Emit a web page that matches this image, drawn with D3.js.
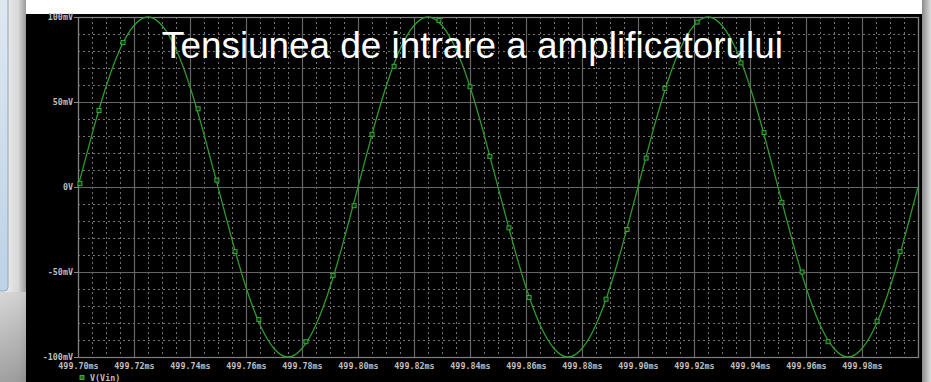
<!DOCTYPE html>
<html>
<head>
<meta charset="utf-8">
<script src="https://cdn.jsdelivr.net/npm/d3@7"></script>
<style>
  html, body { margin: 0; padding: 0; background: #ffffff; }
  svg { display: block; }
</style>
</head>
<body>
<svg id="chart" width="931" height="382"></svg>
<script>
// Transient analysis: V(Vin) between 499.70 ms and 500.00 ms
const sampleStart = 499.70;   // ms
const sampleStep = 0.005;     // ms
const vinSamples = [
  0, 31, 59, 81, 95, 100, 95, 81, 59, 31,
  0, -31, -59, -81, -95, -100, -95, -81, -59, -31,
  0, 31, 59, 81, 95, 100, 95, 81, 59, 31,
  0, -31, -59, -81, -95, -100, -95, -81, -59, -31,
  0, 31, 59, 81, 95, 100, 95, 81, 59, 31,
  0, -31, -59, -81, -95, -100, -95, -81, -59, -31,
  0
];

// Probe markers on the trace (time in ms, value in mV)
const markerTimes = [
  499.7007, 499.7075, 499.7161, 499.7429, 499.7496, 499.7561, 499.7646,
  499.7814, 499.7911, 499.7986, 499.8050, 499.8129, 499.8289, 499.8400,
  499.8471, 499.8539, 499.8611, 499.8886, 499.8961, 499.9029, 499.9096,
  499.9211, 499.9368, 499.9450, 499.9514, 499.9586, 499.9679, 499.9854,
  499.9936
];
const markerValues = [
  2, 45, 85, 46, 4, -38, -78,
  -91, -52, -11, 31, 71, 98, 59,
  18, -24, -65, -66, -25, 17, 58,
  97, 73, 32, -9, -50, -91, -79,
  -38
];

const xTickValues = [499.70, 499.72, 499.74, 499.76, 499.78, 499.80, 499.82,
  499.84, 499.86, 499.88, 499.90, 499.92, 499.94, 499.96, 499.98];
const xTickLabels = ["499.70ms", "499.72ms", "499.74ms", "499.76ms", "499.78ms",
  "499.80ms", "499.82ms", "499.84ms", "499.86ms", "499.88ms", "499.90ms",
  "499.92ms", "499.94ms", "499.96ms", "499.98ms"];
const yTickValues = [100, 50, 0, -50, -100];
const yTickLabels = ["100mV", "50mV", "0V", "-50mV", "-100mV"];

const titleText = "Tensiunea de intrare a amplificatorului";
const legendText = "V(Vin)";

const svg = d3.select("#chart");
const W = 931, H = 382;

// ---- surrounding window chrome ----
const defs = svg.append("defs");
const gTop = defs.append("linearGradient").attr("id", "gTop").attr("x1", 0).attr("y1", 0).attr("x2", 0).attr("y2", 1);
gTop.append("stop").attr("offset", 0).attr("stop-color", "#ffffff");
gTop.append("stop").attr("offset", 1).attr("stop-color", "#e6e6e6");
const gLeft = defs.append("linearGradient").attr("id", "gLeft").attr("x1", 0).attr("y1", 0).attr("x2", 1).attr("y2", 0);
gLeft.append("stop").attr("offset", 0).attr("stop-color", "#f4f4f4");
gLeft.append("stop").attr("offset", 0.7).attr("stop-color", "#d8d8d8");
gLeft.append("stop").attr("offset", 1).attr("stop-color", "#9a9a9a");
const gLeftLow = defs.append("linearGradient").attr("id", "gLeftLow").attr("x1", 0).attr("y1", 0).attr("x2", 0).attr("y2", 1);
gLeftLow.append("stop").attr("offset", 0).attr("stop-color", "#d0d0d0");
gLeftLow.append("stop").attr("offset", 1).attr("stop-color", "#8c8c8c");
const gRight = defs.append("linearGradient").attr("id", "gRight").attr("x1", 0).attr("y1", 0).attr("x2", 1).attr("y2", 0);
gRight.append("stop").attr("offset", 0).attr("stop-color", "#8a8a8a");
gRight.append("stop").attr("offset", 1).attr("stop-color", "#dedede");
const gBlue = defs.append("linearGradient").attr("id", "gBlue").attr("x1", 0).attr("y1", 0).attr("x2", 0).attr("y2", 1);
gBlue.append("stop").attr("offset", 0).attr("stop-color", "#dfe8f1");
gBlue.append("stop").attr("offset", 1).attr("stop-color", "#bcd2e6");

svg.append("rect").attr("x", 0).attr("y", 0).attr("width", W).attr("height", H).attr("fill", "url(#gTop)");
svg.append("rect").attr("x", 0).attr("y", 0).attr("width", 26).attr("height", H).attr("fill", "url(#gLeft)");
svg.append("rect").attr("x", 0).attr("y", 292).attr("width", 26).attr("height", H - 292).attr("fill", "url(#gLeftLow)").attr("opacity", 0.8);
svg.append("rect").attr("x", -6).attr("y", -6).attr("width", 14).attr("height", 297).attr("rx", 4)
  .attr("fill", "url(#gBlue)").attr("stroke", "#8fa6bd").attr("stroke-width", 1);
svg.append("rect").attr("x", 922).attr("y", 0).attr("width", 9).attr("height", H).attr("fill", "url(#gRight)");

// ---- plot window ----
svg.append("rect").attr("x", 26).attr("y", 14).attr("width", 896).attr("height", H - 14).attr("fill", "#000000");

const x = d3.scaleLinear().domain([499.70, 500.00]).range([78, 918]);
const y = d3.scaleLinear().domain([-100, 100]).range([357, 17]);

// grid: dotted minor lines, solid major lines
const grid = svg.append("g");
const minorX = d3.range(0, 61).map(i => 499.70 + i * 0.005).filter((t, i) => i % 4 !== 0);
const minorY = d3.range(-100, 101, 10).filter(v => v % 50 !== 0);
grid.selectAll(".mx").data(minorX).join("line")
  .attr("x1", d => Math.round(x(d)) + 0.5).attr("x2", d => Math.round(x(d)) + 0.5)
  .attr("y1", y(100)).attr("y2", y(-100))
  .attr("stroke", "#747474").attr("stroke-width", 1).attr("stroke-dasharray", "2,3");
grid.selectAll(".my").data(minorY).join("line")
  .attr("y1", d => Math.round(y(d)) + 0.5).attr("y2", d => Math.round(y(d)) + 0.5)
  .attr("x1", x(499.70)).attr("x2", x(500.00))
  .attr("stroke", "#747474").attr("stroke-width", 1).attr("stroke-dasharray", "2,3");
grid.selectAll(".Mx").data(xTickValues.concat([500.00])).join("line")
  .attr("x1", d => Math.round(x(d)) + 0.5).attr("x2", d => Math.round(x(d)) + 0.5)
  .attr("y1", y(100)).attr("y2", y(-100))
  .attr("stroke", "#666666").attr("stroke-width", 1.2);
grid.selectAll(".My").data(yTickValues).join("line")
  .attr("y1", d => Math.round(y(d)) + 0.5).attr("y2", d => Math.round(y(d)) + 0.5)
  .attr("x1", x(499.70)).attr("x2", x(500.00))
  .attr("stroke", "#666666").attr("stroke-width", 1.2);
// frame
svg.append("rect")
  .attr("x", x(499.70) + 0.5).attr("y", y(100) + 0.5)
  .attr("width", x(500.00) - x(499.70)).attr("height", y(-100) - y(100))
  .attr("fill", "none").attr("stroke", "#808080").attr("stroke-width", 1.2);

// axes
const monoFont = "'DejaVu Sans Mono', 'Liberation Mono', monospace";
const xAxis = svg.append("g")
  .attr("transform", `translate(0,${y(-100)})`)
  .call(d3.axisBottom(x).tickValues(xTickValues).tickSize(0).tickPadding(6)
    .tickFormat((d, i) => xTickLabels[i]));
const yAxis = svg.append("g")
  .attr("transform", `translate(${x(499.70)},0)`)
  .call(d3.axisLeft(y).tickValues(yTickValues).tickSize(4).tickPadding(1)
    .tickFormat((d, i) => yTickLabels[i]));
[xAxis, yAxis].forEach(a => {
  a.select(".domain").remove();
  a.selectAll("line").attr("stroke", "#8a8a8a");
  a.selectAll("text").attr("fill", "#bdbdbd").attr("font-family", monoFont)
    .attr("font-size", 8.4).attr("font-weight", "bold");
});
// keep the bottom y label clear of the first time label
yAxis.selectAll("text").attr("dy", "0.28em");

// trace
const trace = vinSamples.map((v, i) => [sampleStart + i * sampleStep, v]);
const line = d3.line().x(d => x(d[0])).y(d => y(d[1])).curve(d3.curveNatural);
svg.append("path").datum(trace)
  .attr("d", line)
  .attr("fill", "none").attr("stroke", "#2e9a2e").attr("stroke-width", 1.3);

// markers
const markers = markerTimes.map((t, i) => [t, markerValues[i]]);
svg.selectAll(".mk").data(markers).join("rect")
  .attr("x", d => x(d[0]) - 2).attr("y", d => y(d[1]) - 2)
  .attr("width", 4).attr("height", 4)
  .attr("fill", "#0a2a0a").attr("stroke", "#3aa83a").attr("stroke-width", 1);

// legend
svg.append("rect").attr("x", 80).attr("y", 375.5).attr("width", 4).attr("height", 4)
  .attr("fill", "#1f6f1f").attr("stroke", "#3aa83a").attr("stroke-width", 1);
svg.append("text").attr("x", 90).attr("y", 381).text(legendText)
  .attr("fill", "#bdbdbd").attr("font-family", monoFont).attr("font-size", 8.4).attr("font-weight", "bold");

// title
svg.append("text").attr("x", 162).attr("y", 58).text(titleText)
  .attr("fill", "#ffffff").attr("font-family", "'Liberation Sans', Arial, sans-serif")
  .attr("font-size", 37).attr("textLength", 621).attr("lengthAdjust", "spacingAndGlyphs");
</script>
</body>
</html>
